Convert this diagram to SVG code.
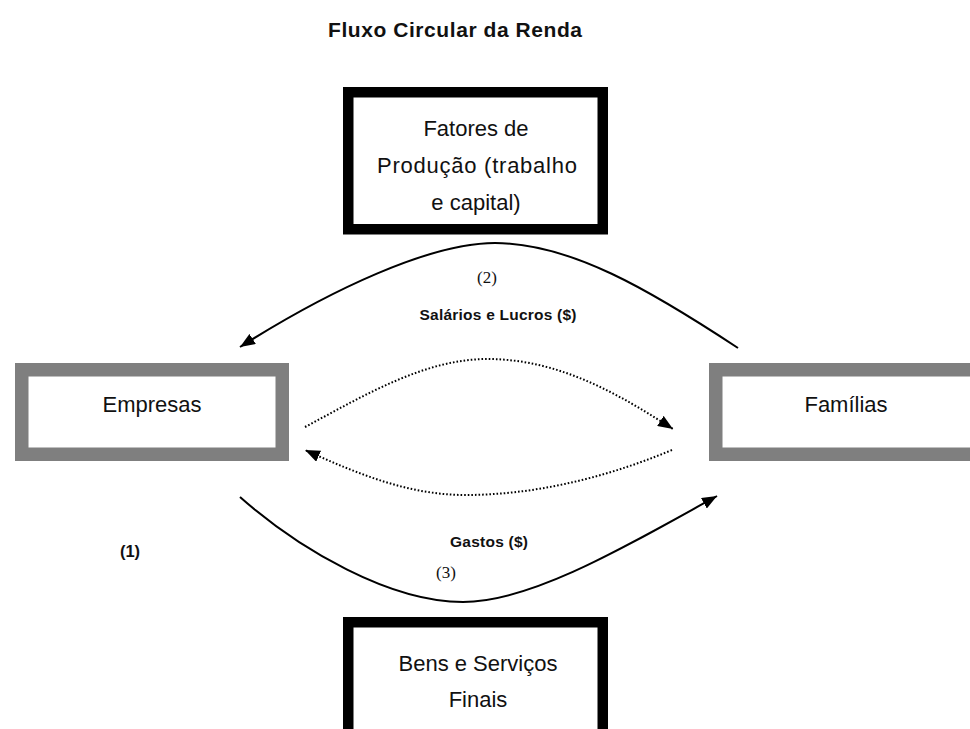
<svg xmlns="http://www.w3.org/2000/svg" width="970" height="729" viewBox="0 0 970 729">
  <defs>
    <style>
      .node-black { fill: #ffffff; stroke: #000000; stroke-width: 10.5; }
      .node-gray { fill: #ffffff; stroke: #7f7f7f; stroke-width: 13.5; }
      .ntext { font-family: "Liberation Sans", Arial, sans-serif; font-size: 22px; fill: #111111; text-anchor: middle; }
      .title { font-family: "Liberation Sans", Arial, sans-serif; font-size: 21px; font-weight: bold; fill: #111111; text-anchor: middle; }
      .lbl { font-family: "Liberation Sans", Arial, sans-serif; font-size: 15.5px; font-weight: bold; fill: #111111; text-anchor: middle; }
      .num { font-family: "Liberation Serif", "Times New Roman", serif; font-size: 17px; fill: #111111; text-anchor: middle; }
      .solid { fill: none; stroke: #000000; stroke-width: 2; }
      .dotted { fill: none; stroke: #000000; stroke-width: 2; stroke-dasharray: 1.6 2; }
    </style>
    <marker id="arrow" markerUnits="userSpaceOnUse" markerWidth="16" markerHeight="12" refX="15" refY="6" orient="auto">
      <path d="M0,0 L15,6 L0,12 z" fill="#000000"/>
    </marker>
  </defs>
  <rect width="970" height="729" fill="#ffffff"/>

  <text class="title" x="455" y="37" textLength="254" lengthAdjust="spacing">Fluxo Circular da Renda</text>

  <g id="fatores">
    <rect class="node-black" x="348.25" y="92.25" width="254.5" height="137"/>
    <text class="ntext" x="476" y="136">Fatores de</text>
    <text class="ntext" x="477" y="173" textLength="200" lengthAdjust="spacing">Produção (trabalho</text>
    <text class="ntext" x="476" y="210">e capital)</text>
  </g>

  <g id="empresas">
    <rect class="node-gray" x="21.75" y="369.75" width="260.5" height="84.5"/>
    <text class="ntext" x="152" y="412">Empresas</text>
  </g>

  <g id="familias">
    <rect class="node-gray" x="715.75" y="369.75" width="270" height="84.5"/>
    <text class="ntext" x="846" y="412">Famílias</text>
  </g>

  <g id="bens">
    <rect class="node-black" x="348.25" y="622.25" width="254.5" height="130"/>
    <text class="ntext" x="478" y="671">Bens e Serviços</text>
    <text class="ntext" x="478" y="707">Finais</text>
  </g>

  <g id="connectors">
    <path class="solid" d="M738,348 C650,290 570,243 495,243 C430,243 330,290 240,347" marker-end="url(#arrow)"/>
    <path class="dotted" d="M305,427 C365,395 425,359 487,359 C560,359 620,395 673,429" marker-end="url(#arrow)"/>
    <path class="dotted" d="M672,450 C600,480 530,495 465,495 C410,495 360,475 305,450" marker-end="url(#arrow)"/>
    <path class="solid" d="M240,497 C300,550 390,602 463,602 C530,602 620,550 717,496" marker-end="url(#arrow)"/>
  </g>

  <g id="labels">
    <text class="num" x="487" y="283">(2)</text>
    <text class="lbl" x="498" y="320" textLength="157" lengthAdjust="spacing">Salários e Lucros ($)</text>
    <text class="lbl" x="130" y="557" style="font-size:16.5px">(1)</text>
    <text class="lbl" x="489" y="547" textLength="78" lengthAdjust="spacing">Gastos ($)</text>
    <text class="num" x="446" y="578">(3)</text>
  </g>
</svg>
